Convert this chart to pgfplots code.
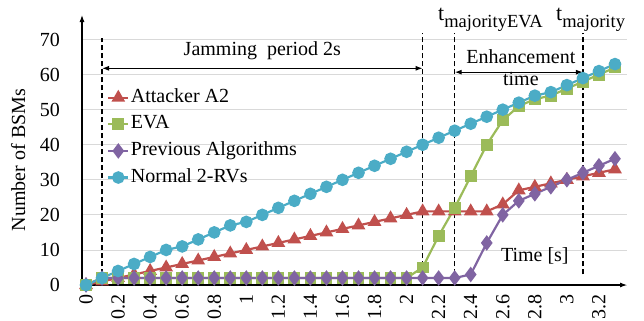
\documentclass[border=0pt]{standalone}
\usepackage{fontspec}
\setmainfont{Liberation Serif}
\usepackage{pgfplots}
\pgfplotsset{compat=1.18}
\usepackage{pgfplotstable}
\usetikzlibrary{arrows.meta}
\definecolor{cA}{HTML}{C0504D}
\definecolor{cE}{HTML}{9BBB59}
\definecolor{cP}{HTML}{8064A2}
\definecolor{cN}{HTML}{4BACC6}
\pgfplotstableread{
t   A  E  P  N
0   0  0  0  0
0.1 1  2  2  2
0.2 2  2  2  4
0.3 3  2  2  6
0.4 4  2  2  8
0.5 5  2  2  10
0.6 6  2  2  11
0.7 7  2  2  13
0.8 8  2  2  15
0.9 9  2  2  17
1.0 10 2  2  18
1.1 11 2  2  20
1.2 12 2  2  22
1.3 13 2  2  24
1.4 14 2  2  26
1.5 15 2  2  28
1.6 16 2  2  30
1.7 17 2  2  32
1.8 18 2  2  34
1.9 19 2  2  36
2.0 20 2  2  38
2.1 21 5  2  40
2.2 21 14 2  42
2.3 21 22 2  44
2.4 21 31 3  46
2.5 21 40 12 48
2.6 23 47 20 50
2.7 27 51 24 52
2.8 28 53 26 54
2.9 29 54 28 55
3.0 30 56 30 57
3.1 31 58 32 59
3.2 32 60 34 61
3.3 33 62 36 63
}\data
\begin{document}
\fontsize{20bp}{24bp}\selectfont
\begin{tikzpicture}
\begin{axis}[name=ax, scale only axis, width=545bp, height=270bp,
  xmin=-0.025, xmax=3.375, ymin=0, ymax=77,
  axis lines=left,
  axis line style={line width=1.1bp, -{Latex[length=7bp,width=5bp]}},
  /pgf/number format/assume math mode=true,
  xtick={0,0.2,0.4,0.6,0.8,1,1.2,1.4,1.6,1.8,2,2.2,2.4,2.6,2.8,3,3.2},
  xticklabels={0,0.2,0.4,0.6,0.8,1,1.2,1.4,1.6,1.8,2,2.2,2.4,2.6,2.8,3,3.2},
  xticklabel style={yshift=-9bp, rotate=90, anchor=east, inner sep=0pt},
  ytick={0,10,20,30,40,50,60,70},
  yticklabel style={anchor=east, inner sep=0pt, xshift=-22bp},
  major tick length=0pt,
  ymajorgrids, grid style={color=black!15, line width=0.8bp},
  ylabel={Number of BSMs},
  ylabel style={at={(axis description cs:-0.117,0.463)}, anchor=center},
  clip=false,
  legend cell align=left,
  legend image code/.code={\draw[mark repeat=2,mark phase=2] plot coordinates {(0bp,0bp)(10bp,0bp)(20bp,0bp)};},
  legend style={at={(axis cs:0.131,56.6)}, anchor=north west, draw=none, fill=none,
    inner sep=0pt, row sep=4.6bp, nodes={inner sep=1.5bp, text height=14bp, text depth=5bp}},
  every axis plot/.append style={line width=2.2bp},
]
\addplot[color=cA, mark=triangle*, mark size=5.8bp, mark options={solid}] table[x=t,y=A] {\data};
\addlegendentry{Attacker A2}
\addplot[color=cE, mark=square*, mark size=4.8bp, mark options={solid}] table[x=t,y=E] {\data};
\addlegendentry{EVA}
\addplot[color=cP, mark=diamond*, mark size=6bp, mark options={solid}] table[x=t,y=P] {\data};
\addlegendentry{Previous Algorithms}
\addplot[color=cN, mark=*, mark size=5.2bp, mark options={solid}] table[x=t,y=N] {\data};
\addlegendentry{Normal 2-RVs}

\begin{scope}[line width=1.2bp, dash pattern=on 5bp off 3bp]
\draw (axis cs:0.1,3) -- (axis cs:0.1,70.5);
\draw (axis cs:2.1,3) -- (axis cs:2.1,72);
\draw (axis cs:2.3,3) -- (axis cs:2.3,72);
\draw (axis cs:3.1,3) -- (axis cs:3.1,72);
\end{scope}
\draw[line width=1.1bp, {Latex[length=7bp,width=5bp]}-{Latex[length=7bp,width=5bp]}] (axis cs:0.1,61.8) -- (axis cs:2.1,61.8);
\draw[line width=1.1bp, {Latex[length=7bp,width=5bp]}-{Latex[length=7bp,width=5bp]}] (axis cs:2.3,60.7) -- (axis cs:3.1,60.7);
\node[anchor=base, inner sep=0pt] at (axis cs:1.10,65.5) {Jamming\ \ period 2s};
\node[anchor=base, inner sep=0pt] at (axis cs:2.713,63.2) {Enhancement};
\node[anchor=base, inner sep=0pt] at (axis cs:2.713,57) {time};
\node[anchor=base, inner sep=0pt] at (axis cs:2.80,6.6) {Time [s]};
\node[anchor=base west, inner sep=0pt] at (axis cs:2.196,75.5) {{\fontsize{22bp}{24bp}\selectfont t}\raisebox{-7bp}{\fontsize{18.5bp}{20bp}\selectfont majorityEVA}};
\node[anchor=base west, inner sep=0pt] at (axis cs:2.932,75.5) {{\fontsize{22bp}{24bp}\selectfont t}\raisebox{-7bp}{\fontsize{18.5bp}{20bp}\selectfont majority}};
\end{axis}
\pgfresetboundingbox
\useasboundingbox ([shift={(-82bp,-36bp)}]ax.south west) rectangle ([shift={(562bp,285bp)}]ax.south west);
\end{tikzpicture}
\end{document}
